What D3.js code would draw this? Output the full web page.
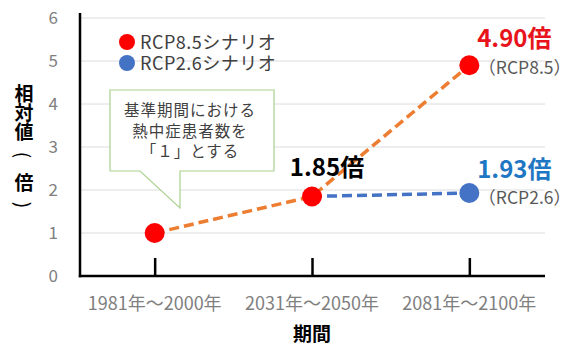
<!DOCTYPE html>
<html>
<head>
<meta charset="utf-8">
<script src="https://cdn.jsdelivr.net/npm/d3@7/dist/d3.min.js"></script>
<style>
  html, body { margin: 0; padding: 0; background: #fff; }
  svg { display: block; font-family: "Noto Sans CJK JP", "Noto Sans", sans-serif; }
</style>
</head>
<body>
<svg id="chart" width="572" height="347"></svg>
<script>
// Periods on the x axis
const periods = ["1981年～2000年", "2031年～2050年", "2081年～2100年"];
// Relative number of heatstroke patients (baseline period = 1)
const rcp85Values = [1, 1.85, 4.90];
const rcp26Values = [null, 1.85, 1.93];
const yTicks = [0, 1, 2, 3, 4, 5, 6];
const seriesNames = ["RCP8.5シナリオ", "RCP2.6シナリオ"];
const calloutLines = ["基準期間における", "熱中症患者数を", "「１」とする"];
const yTitleChars = ["相", "対", "値", "(", "倍", ")"];

const svg = d3.select("#chart");

const x = d3.scalePoint().domain(periods).range([76, 548]).padding(0.5);
const y = d3.scaleLinear().domain([0, 6]).range([276, 18]);
const xLeft = 80, xRight = 545;

// Horizontal gridlines
svg.append("g").selectAll("line").data(yTicks.filter(d => d > 0)).join("line")
  .attr("x1", xLeft).attr("x2", xRight)
  .attr("y1", d => y(d)).attr("y2", d => y(d))
  .attr("stroke", "#dcdcdc").attr("stroke-width", 1);

// Y axis: line plus grey labels
const yAxis = d3.axisLeft(y).tickValues(yTicks).tickFormat(d3.format("d"))
  .tickSize(0).tickPadding(22);
const gy = svg.append("g").attr("transform", `translate(${xLeft},0)`).call(yAxis);
gy.select(".domain").remove();
gy.selectAll("text").attr("fill", "#808080").attr("font-size", 17)
  .attr("font-family", "'Noto Sans CJK JP', sans-serif");
svg.append("line").attr("x1", xLeft).attr("x2", xLeft).attr("y1", 13).attr("y2", y(0) + 1.2)
  .attr("stroke", "#000").attr("stroke-width", 2.5);

// X axis with inward ticks
const xAxis = d3.axisBottom(x).tickSize(-18).tickPadding(0).tickFormat(() => "");
const gx = svg.append("g").attr("transform", `translate(0,${y(0)})`).call(xAxis);
gx.select(".domain").remove();
gx.selectAll(".tick line").attr("stroke", "#000").attr("stroke-width", 2.5);
svg.append("line").attr("x1", xLeft - 1.2).attr("x2", xRight).attr("y1", y(0)).attr("y2", y(0))
  .attr("stroke", "#000").attr("stroke-width", 2.5);
svg.append("g").selectAll("text").data(periods).join("text")
  .attr("x", d => x(d)).attr("y", 310)
  .attr("text-anchor", "middle").attr("fill", "#808080").attr("font-size", 18)
  .text(d => d);

// Axis titles
svg.append("text").attr("x", x(periods[1])).attr("y", 341)
  .attr("text-anchor", "middle").attr("font-weight", "bold").attr("font-size", 19)
  .attr("fill", "#000").text("期間");
// Vertical y title, one glyph per row; brackets turned to lie across the column
const isBracket = d => d === "(" || d === ")";
const yTitleY = [92, 111, 130, 155, 181, 205];
svg.append("g").selectAll("text").data(yTitleChars).join("text")
  .attr("transform", (d, i) => `translate(24,${yTitleY[i]})` + (isBracket(d) ? " rotate(90)" : ""))
  .attr("text-anchor", "middle").attr("dominant-baseline", "central")
  .attr("font-weight", d => isBracket(d) ? "normal" : "bold")
  .attr("font-size", d => isBracket(d) ? 19 : 19)
  .attr("fill", "#000")
  .text(d => d);

// Callout box with pointer
const bx0 = 110, bx1 = 274, by0 = 90, by1 = 171;
const tip = [180, 208];
const calloutPath = `M${bx0},${by0} H${bx1} V${by1} H${tip[0]} V${tip[1]} L140,${by1} H${bx0} Z`;
svg.append("path").attr("d", calloutPath)
  .attr("fill", "#fff").attr("stroke", "#a9d18e").attr("stroke-width", 1.2);
svg.append("g").selectAll("text").data(calloutLines).join("text")
  .attr("x", 190).attr("y", (d, i) => 116 + i * 20.5)
  .attr("text-anchor", "middle").attr("fill", "#404040").attr("font-size", 15.5)
  .attr("letter-spacing", 1)
  .text(d => d);

// Lines
const orange = "#ed7d31", blue = "#4472c4";
const line = d3.line().defined(d => d.v != null).x(d => x(d.p)).y(d => y(d.v));
const rows85 = periods.map((p, i) => ({ p, v: rcp85Values[i] }));
const rows26 = periods.map((p, i) => ({ p, v: rcp26Values[i] }));
svg.append("path").datum(rows85).attr("d", line)
  .attr("fill", "none").attr("stroke", orange).attr("stroke-width", 3.5)
  .attr("stroke-dasharray", "10,5");
svg.append("path").datum(rows26).attr("d", line)
  .attr("fill", "none").attr("stroke", blue).attr("stroke-width", 3.5)
  .attr("stroke-dasharray", "10,5");

// Markers
const red = "#ff0000";
svg.append("g").selectAll("circle").data(rows26.filter(d => d.v != null && d.p === periods[2])).join("circle")
  .attr("cx", d => x(d.p)).attr("cy", d => y(d.v)).attr("r", 10).attr("fill", blue);
svg.append("g").selectAll("circle").data(rows85).join("circle")
  .attr("cx", d => x(d.p)).attr("cy", d => y(d.v)).attr("r", 10).attr("fill", red);

// Value labels
const fmt = d3.format(".2f");
svg.append("text").attr("x", x(periods[1]) + 15).attr("y", y(rcp85Values[1]) - 20)
  .attr("text-anchor", "middle").attr("font-weight", "bold").attr("font-size", 24)
  .attr("fill", "#000").text(fmt(rcp85Values[1]) + "倍");
svg.append("text").attr("x", x(periods[2]) + 45).attr("y", y(rcp85Values[2]) - 18)
  .attr("text-anchor", "middle").attr("font-weight", "bold").attr("font-size", 24)
  .attr("fill", "#e8141c").text(fmt(rcp85Values[2]) + "倍");
svg.append("text").attr("x", x(periods[2]) + 45).attr("y", y(rcp26Values[2]) - 15)
  .attr("text-anchor", "middle").attr("font-weight", "bold").attr("font-size", 24)
  .attr("fill", "#1f77c4").text(fmt(rcp26Values[2]) + "倍");
svg.append("text").attr("x", x(periods[2]) + 9).attr("y", y(rcp85Values[2]) + 9)
  .attr("text-anchor", "start").attr("font-size", 17.5).attr("fill", "#595959")
  .text("（RCP8.5）");
svg.append("text").attr("x", x(periods[2]) + 9).attr("y", y(rcp26Values[2]) + 11)
  .attr("text-anchor", "start").attr("font-size", 17.5).attr("fill", "#595959")
  .text("（RCP2.6）");

// Legend
const legend = svg.append("g").selectAll("g").data(seriesNames).join("g")
  .attr("transform", (d, i) => `translate(127,${42 + i * 21})`);
legend.append("circle").attr("r", 8).attr("fill", (d, i) => i === 0 ? red : blue);
legend.append("text").attr("x", 13).attr("y", 6.5).attr("font-size", 18)
  .attr("letter-spacing", 0.5)
  .attr("fill", "#404040").text(d => d);
</script>
</body>
</html>
